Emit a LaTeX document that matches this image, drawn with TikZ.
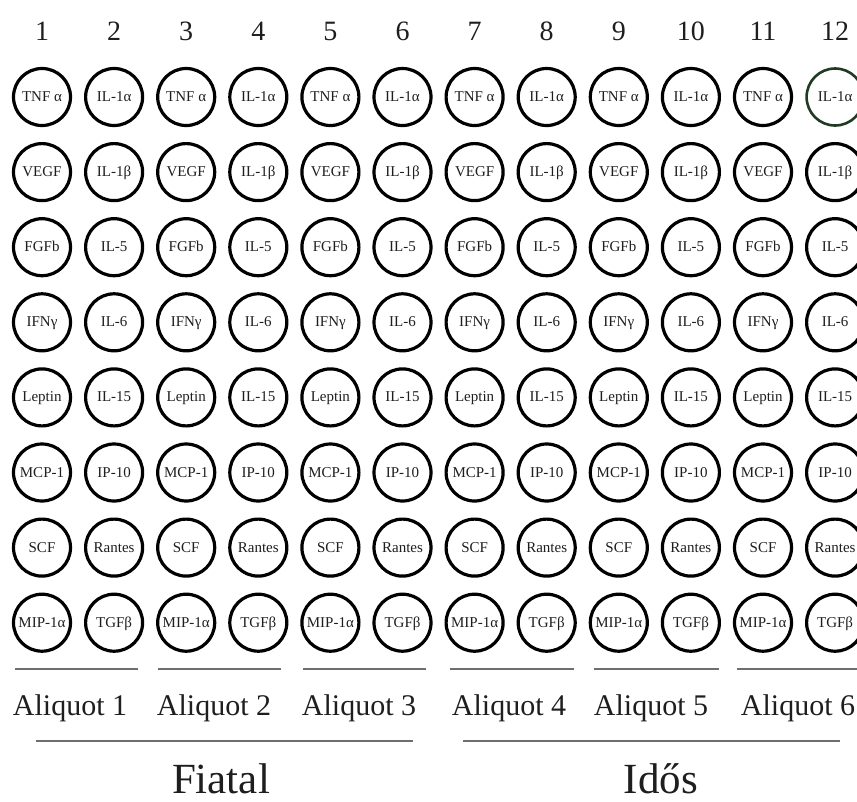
\documentclass[tikz,border=0pt]{standalone}
\usepackage{fontspec}
\setmainfont{Liberation Serif}
\definecolor{txt}{HTML}{1E1E1E}
\definecolor{rule}{HTML}{6E6E6E}
\definecolor{greenish}{HTML}{203A24}
\begin{document}
\begin{tikzpicture}[x=1pt,y=-1pt,
  well/.style={circle,draw=black,line width=3.2pt,minimum size=57pt,inner sep=0pt,
    text=txt,font=\fontsize{15}{15}\selectfont,text height=9.5pt,text depth=0.5pt},
  colnum/.style={anchor=base,text=txt,font=\fontsize{28}{28}\selectfont,inner sep=0pt},
  aliq/.style={anchor=base,text=txt,font=\fontsize{30}{30}\selectfont,inner sep=0pt},
  grp/.style={anchor=base,text=txt,font=\fontsize{43}{43}\selectfont,inner sep=0pt},
  pairline/.style={draw=rule,line width=2pt},
  grpline/.style={draw=rule,line width=2.2pt}]
\useasboundingbox (0,0) rectangle (857,801);
% column numbers
\foreach \c in {1,...,12}{
  \node[colnum] (num\c) at ({42+72.1*(\c-1)},40) {\c};
}
% wells
\foreach \r/\a/\b in {1/TNF α/IL-1α,2/VEGF/IL-1β,3/FGFb/IL-5,4/IFNγ/IL-6,5/Leptin/IL-15,6/MCP-1/IP-10,7/SCF/Rantes,8/MIP-1α/TGFβ}{
  \foreach \p in {1,...,6}{
    \pgfmathsetmacro\co{2*\p-1}
    \pgfmathsetmacro\ce{2*\p}
    \pgfmathtruncatemacro\cn{2*\p-1}
    \pgfmathtruncatemacro\cm{2*\p}
    \node[well] (w-\r-\cn) at ({42+72.1*(\co-1)},{97+75.1*(\r-1)}) {\a};
    \ifnum\r=1 \ifnum\p=6
      \node[well,draw=greenish,line width=2.6pt] (w-\r-\cm) at ({42+72.1*(\ce-1)},{97+75.1*(\r-1)}) {\b};
    \else
      \node[well] (w-\r-\cm) at ({42+72.1*(\ce-1)},{97+75.1*(\r-1)}) {\b};
    \fi\else
      \node[well] (w-\r-\cm) at ({42+72.1*(\ce-1)},{97+75.1*(\r-1)}) {\b};
    \fi
  }
}
% pair lines
\foreach \p/\xa/\xb in {1/15/138,2/158/281,3/303/426,4/450/574,5/594/719,6/737/858}{
  \coordinate (pl\p a) at (\xa,669);
  \coordinate (pl\p b) at (\xb,669);
  \draw[pairline] (pl\p a) -- (pl\p b);
}
% aliquot labels
\foreach \p/\x in {1/70,2/214,3/359,4/509,5/651,6/798}{
  \node[aliq] (al\p) at (\x,715) {Aliquot \p};
}
% group lines
\coordinate (ga) at (36,741);
\coordinate (gb) at (413,741);
\coordinate (gc) at (463,741);
\coordinate (gd) at (840,741);
\draw[grpline] (ga) -- (gb);
\draw[grpline] (gc) -- (gd);
\node[grp] (fiatal) at (221,793) {Fiatal};
\node[grp] (idos) at (661,793) {Idős};
\end{tikzpicture}
\end{document}
